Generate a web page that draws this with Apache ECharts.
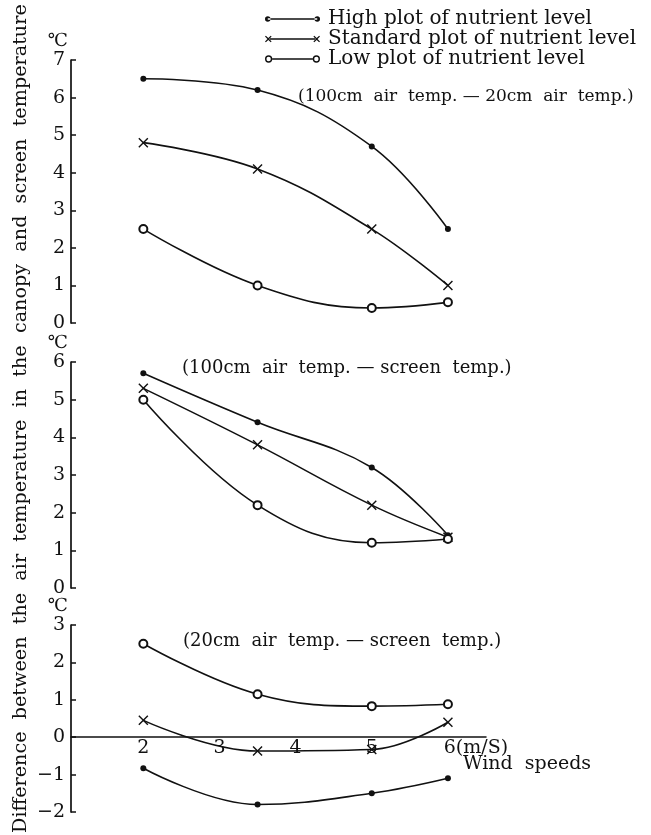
<!DOCTYPE html>
<html>
<head>
<meta charset="utf-8">
<script src="https://cdn.jsdelivr.net/npm/echarts@6/dist/echarts.min.js"></script>
<style>
  html, body { margin: 0; padding: 0; background: #fff; }
  #chart { width: 651px; height: 835px; }
</style>
</head>
<body>
<div id="chart"></div>
<script>
// wind speed (m/s) where each treatment was measured
const windSpeeds = [2, 3.5, 5, 6]
const xTicks = [2, 3, 4, 5, 6]

// (100cm air temp. - 20cm air temp.)
const high100_20 = [6.5, 6.2, 4.7, 2.5]
const std100_20 = [4.8, 4.1, 2.5, 1.0]
const low100_20 = [2.5, 1.0, 0.4, 0.55]

// (100cm air temp. - screen temp.)
const high100_scr = [5.7, 4.4, 3.2, 1.4]
const std100_scr = [5.3, 3.8, 2.2, 1.35]
const low100_scr = [5.0, 2.2, 1.2, 1.3]

// (20cm air temp. - screen temp.)
const high20_scr = [-0.83, -1.8, -1.5, -1.1]
const std20_scr = [0.45, -0.37, -0.33, 0.4]
const low20_scr = [2.5, 1.15, 0.83, 0.88]

const seriesNames = ['High plot of nutrient level', 'Standard plot of nutrient level', 'Low plot of nutrient level']

const serif = 'DejaVu Serif'
const ink = '#111'

const crossPath = 'path://M0,1 L1,0 L5,4 L9,0 L10,1 L6,5 L10,9 L9,10 L5,6 L1,10 L0,9 L4,5 Z'
const markers = [
  { symbol: 'circle', symbolSize: 6 },
  { symbol: crossPath, symbolSize: 10 },
  { symbol: 'emptyCircle', symbolSize: 8 }
]

const legendIcons = [
  'path://M0,4a2.5,2.5 0 1,0 5,0a2.5,2.5 0 1,0 -5,0Z M45,4a2.5,2.5 0 1,0 5,0a2.5,2.5 0 1,0 -5,0Z M2.5,3.4H47.5V4.6H2.5Z',
  'path://M0,1.8L0.8,1L3,3.2L5.2,1L6,1.8L3.8,4L6,6.2L5.2,7L3,4.8L0.8,7L0,6.2L2.2,4Z M44,1.8L44.8,1L47,3.2L49.2,1L50,1.8L47.8,4L50,6.2L49.2,7L47,4.8L44.8,7L44,6.2L46.2,4Z M4.5,3.4H45.5V4.6H4.5Z',
  'path://M0,4a3.3,3.3 0 1,1 6.6,0a3.3,3.3 0 1,1 -6.6,0Z M1.3,4a2,2 0 1,0 4,0a2,2 0 1,0 -4,0Z M43.4,4a3.3,3.3 0 1,1 6.6,0a3.3,3.3 0 1,1 -6.6,0Z M44.7,4a2,2 0 1,0 4,0a2,2 0 1,0 -4,0Z M6.6,3.4H43.4V4.6H6.6Z'
]

const panels = [
  { top: 60, height: 263, min: 0, max: 7, data: [high100_20, std100_20, low100_20] },
  { top: 362, height: 226, min: 0, max: 6, data: [high100_scr, std100_scr, low100_scr] },
  { top: 625, height: 187, min: -2, max: 3, data: [high20_scr, std20_scr, low20_scr] }
]

const chart = echarts.init(document.getElementById('chart'), null, { renderer: 'canvas' })

const grid = panels.map(p => ({ left: 71, width: 415, top: p.top, height: p.height }))

// only the bottom panel has a wind-speed axis, drawn along its zero line
const xAxis = panels.map((p, i) => ({
  type: 'value',
  gridIndex: i,
  min: 1.05,
  max: 6.5,
  show: i === 2,
  offset: -p.height * (0 - p.min) / (p.max - p.min),
  splitLine: { show: false },
  axisTick: { show: false },
  axisLine: { show: i === 2, onZero: false, lineStyle: { color: ink, width: 1.5 } },
  axisLabel: {
    show: i === 2,
    customValues: xTicks,
    color: ink,
    fontFamily: serif,
    fontSize: 19,
    margin: 1,
    formatter: v => (v === 6 ? '{p|}6(m/S)' : String(v)),
    rich: { p: { width: 56 } }
  }
}))

const yAxis = panels.map((p, i) => ({
  type: 'value',
  gridIndex: i,
  min: p.min,
  max: p.max,
  interval: 1,
  name: '℃',
  nameLocation: 'end',
  nameGap: 10,
  nameTextStyle: { color: ink, fontFamily: serif, fontSize: 18, align: 'right', padding: [0, 3, 0, 0] },
  splitLine: { show: false },
  axisLine: { show: true, onZero: false, lineStyle: { color: ink, width: 1.7 } },
  axisTick: { show: true, inside: true, length: 5, lineStyle: { color: ink, width: 1.5 } },
  axisLabel: {
    color: ink,
    fontFamily: serif,
    fontSize: 19,
    margin: 6,
    formatter: v => (v < 0 ? '\u2212' + Math.abs(v) : String(v))
  }
}))

const series = []
panels.forEach((p, i) => {
  p.data.forEach((vals, k) => {
    series.push({
      name: seriesNames[k],
      type: 'line',
      xAxisIndex: i,
      yAxisIndex: i,
      data: windSpeeds.map((x, j) => [x, vals[j]]),
      smooth: 0.4,
      symbol: markers[k].symbol,
      symbolSize: markers[k].symbolSize,
      showAllSymbol: true,
      lineStyle: { color: ink, width: 1.6 },
      itemStyle: { color: ink, borderWidth: k === 2 ? 1.7 : 0 },
      animation: false
    })
  })
})

const option = {
  backgroundColor: '#fff',
  animation: false,
  grid,
  xAxis,
  yAxis,
  legend: {
    orient: 'vertical',
    left: 265,
    top: 9,
    padding: 0,
    itemWidth: 55,
    itemHeight: 8,
    itemGap: 0,
    selectedMode: false,
    itemStyle: { color: ink, borderWidth: 0 },
    textStyle: { color: ink, fontFamily: serif, fontSize: 20, lineHeight: 19, padding: [0, 0, 0, 3] },
    data: seriesNames.map((n, k) => ({ name: n, icon: legendIcons[k] }))
  },
  graphic: [
    {
      type: 'text', left: 298, top: 88,
      style: { text: '(100cm  air  temp. \u2014 20cm  air  temp.)', font: '17px "DejaVu Serif"', fill: ink }
    },
    {
      type: 'text', left: 182, top: 359,
      style: { text: '(100cm  air  temp. \u2014 screen  temp.)', font: '18px "DejaVu Serif"', fill: ink }
    },
    {
      type: 'text', left: 183, top: 632,
      style: { text: '(20cm  air  temp. \u2014 screen  temp.)', font: '18px "DejaVu Serif"', fill: ink }
    },
    {
      type: 'text', left: 463, top: 755,
      style: { text: 'Wind  speeds', font: '19px "DejaVu Serif"', fill: ink }
    },
    {
      type: 'text', x: 21, y: 833, rotation: Math.PI / 2,
      style: {
        text: 'Difference  between  the  air  temperature  in  the  canopy  and  screen  temperature',
        font: '19.2px "DejaVu Serif"', fill: ink, align: 'left', verticalAlign: 'middle'
      }
    }
  ],
  series
}

chart.setOption(option)
</script>
</body>
</html>
